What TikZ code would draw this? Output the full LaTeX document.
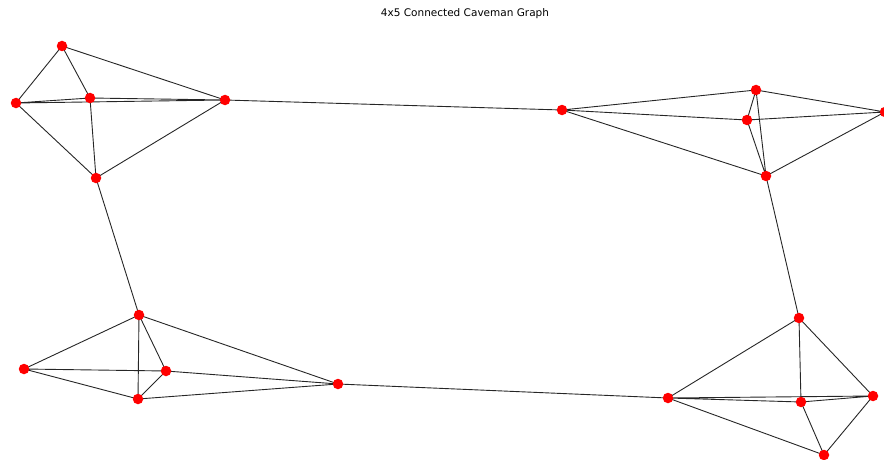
\documentclass[tikz,border=0pt]{standalone}
\usepackage{fontspec}
\setmainfont{DejaVu Sans}
\usetikzlibrary{backgrounds}
\begin{document}
\begin{tikzpicture}[x=1pt,y=-1pt,
  vertex/.style={circle,fill=red,draw=none,minimum size=10.5pt,inner sep=0pt},
  edge/.style={draw=black!85,line width=0.9pt}]
\useasboundingbox (0,0) rectangle (884,460);
\clip (0,0) rectangle (884,460);
\node[font=\fontsize{10.5}{12}\selectfont] (title) at (465,14) {4x5 Connected Caveman Graph};
% cave 1 (top left)
\node[vertex] (a1) at (62,46) {};
\node[vertex] (a2) at (16,103) {};
\node[vertex] (a3) at (90,98) {};
\node[vertex] (a4) at (225,100) {};
\node[vertex] (a5) at (96,178) {};
% cave 2 (top right)
\node[vertex] (b1) at (562,110) {};
\node[vertex] (b2) at (756,90) {};
\node[vertex] (b3) at (747,120) {};
\node[vertex] (b4) at (885,112) {};
\node[vertex] (b5) at (766,176) {};
% cave 3 (bottom left)
\node[vertex] (c1) at (139,315) {};
\node[vertex] (c2) at (24,369) {};
\node[vertex] (c3) at (166,371) {};
\node[vertex] (c4) at (138,399) {};
\node[vertex] (c5) at (338,384) {};
% cave 4 (bottom right)
\node[vertex] (d1) at (799,318) {};
\node[vertex] (d2) at (668,398) {};
\node[vertex] (d3) at (801,402) {};
\node[vertex] (d4) at (873,396) {};
\node[vertex] (d5) at (824,455) {};
% edges sit beneath the vertices
\begin{scope}[on background layer]
\path[edge]
  (a1.center) -- (a2.center) (a1.center) -- (a3.center) (a1.center) -- (a4.center)
  (a2.center) -- (a3.center) (a2.center) -- (a4.center) (a3.center) -- (a4.center)
  (a2.center) -- (a5.center) (a3.center) -- (a5.center) (a4.center) -- (a5.center)
  (b1.center) -- (b2.center) (b1.center) -- (b3.center) (b1.center) -- (b5.center)
  (b2.center) -- (b3.center) (b2.center) -- (b4.center) (b2.center) -- (b5.center)
  (b3.center) -- (b4.center) (b3.center) -- (b5.center) (b4.center) -- (b5.center)
  (c1.center) -- (c2.center) (c1.center) -- (c3.center) (c1.center) -- (c4.center)
  (c1.center) -- (c5.center) (c2.center) -- (c3.center) (c2.center) -- (c4.center)
  (c3.center) -- (c4.center) (c3.center) -- (c5.center) (c4.center) -- (c5.center)
  (d1.center) -- (d2.center) (d1.center) -- (d3.center) (d1.center) -- (d4.center)
  (d2.center) -- (d3.center) (d2.center) -- (d4.center) (d2.center) -- (d5.center)
  (d3.center) -- (d4.center) (d3.center) -- (d5.center) (d4.center) -- (d5.center)
  (a4.center) -- (b1.center) (a5.center) -- (c1.center)
  (b5.center) -- (d1.center) (c5.center) -- (d2.center);
\end{scope}
\end{tikzpicture}
\end{document}
